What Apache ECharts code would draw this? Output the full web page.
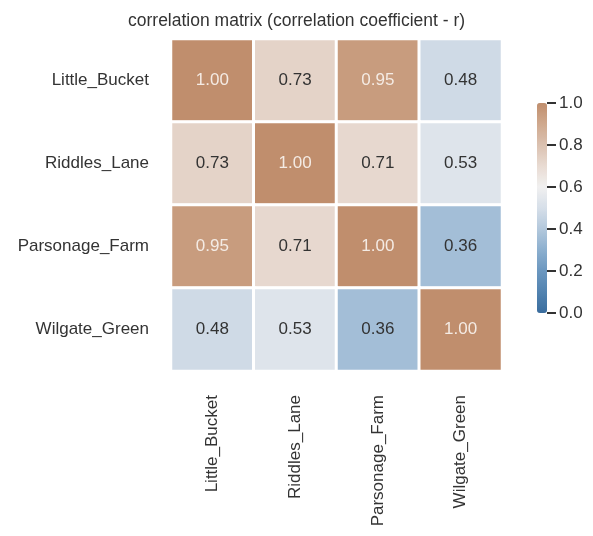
<!DOCTYPE html>
<html>
<head>
<meta charset="utf-8">
<script src="https://cdn.jsdelivr.net/npm/echarts@6/dist/echarts.min.js"></script>
<style>
  html, body { margin: 0; padding: 0; background: #fff; }
  #chart { width: 593px; height: 536px; }
</style>
</head>
<body>
<div id="chart"></div>
<script>
// Stations compared in the correlation matrix
const stations = ['Little_Bucket', 'Riddles_Lane', 'Parsonage_Farm', 'Wilgate_Green'];

// Pearson r, one row per station (same order as the columns)
const rowLittleBucket = [1.00, 0.73, 0.95, 0.48];
const rowRiddlesLane = [0.73, 1.00, 0.71, 0.53];
const rowParsonageFarm = [0.95, 0.71, 1.00, 0.36];
const rowWilgateGreen = [0.48, 0.53, 0.36, 1.00];
const matrixRows = [rowLittleBucket, rowRiddlesLane, rowParsonageFarm, rowWilgateGreen];

// Colour bar ticks
const barTicks = [0.0, 0.2, 0.4, 0.6, 0.8, 1.0];

// Diverging blue -> light -> brown palette, evenly spaced over 0..1
const palette = ['#3a6d9e', '#5283b0', '#6b97bf', '#8cafcf', '#b3c8dc', '#d6dfe9',
                 '#f1f0f0', '#e8dbd2', '#dbc1b0', '#cfa98e', '#c08e6d'];

const FONT = 'Liberation Sans, Arial, sans-serif';
const TXT = '#333333';

const cells = [];
matrixRows.forEach((row, yi) => {
  row.forEach((v, xi) => {
    cells.push({
      value: [xi, yi, v],
      label: { color: v > 0.9 ? '#f4ebe4' : TXT }
    });
  });
});

const chart = echarts.init(document.getElementById('chart'), null, { renderer: 'canvas' });
chart.setOption({
  backgroundColor: '#ffffff',
  animation: false,
  title: {
    text: 'correlation matrix (correlation coefficient - r)',
    left: 123, top: 7,
    textStyle: { fontFamily: FONT, fontSize: 17.5, fontWeight: 'normal', color: TXT }
  },
  grid: [
    { left: 171, top: 39, width: 331, height: 332 },
    { left: 537, top: 103, width: 10, height: 210 }
  ],
  xAxis: [
    {
      type: 'category', gridIndex: 0, data: stations,
      axisLine: { show: false }, axisTick: { show: false }, splitLine: { show: false },
      axisLabel: { rotate: 90, margin: 24, fontFamily: FONT, fontSize: 17, color: TXT }
    },
    { type: 'value', gridIndex: 1, show: false }
  ],
  yAxis: [
    {
      type: 'category', gridIndex: 0, data: stations, inverse: true,
      axisLine: { show: false }, axisTick: { show: false }, splitLine: { show: false },
      axisLabel: { margin: 22, fontFamily: FONT, fontSize: 17, color: TXT }
    },
    {
      type: 'value', gridIndex: 1, position: 'right', min: 0, max: 1, interval: 0.2,
      axisLine: { show: true, onZero: false, lineStyle: { color: 'rgba(0,0,0,0)' } },
      splitLine: { show: false },
      axisTick: { show: true, inside: false, length: 9, lineStyle: { color: '#333333', width: 2 } },
      axisLabel: {
        margin: 12, fontFamily: FONT, fontSize: 17, color: TXT,
        formatter: (v) => barTicks.some(t => Math.abs(t - v) < 1e-9) ? v.toFixed(1) : ''
      }
    }
  ],
  visualMap: {
    type: 'continuous',
    min: 0, max: 1,
    seriesIndex: 0,
    calculable: false,
    show: true,
    orient: 'vertical',
    left: 537, top: 103,
    padding: 0,
    itemWidth: 10, itemHeight: 210,
    text: null,
    showLabel: false,
    inRange: { color: palette }
  },
  series: [
    {
      type: 'heatmap',
      xAxisIndex: 0, yAxisIndex: 0,
      data: cells,
      itemStyle: { borderColor: '#ffffff', borderWidth: 3 },
      label: {
        show: true, fontFamily: FONT, fontSize: 17,
        formatter: (p) => p.value[2].toFixed(2)
      },
      emphasis: { disabled: true }
    }
  ]
});
</script>
</body>
</html>
